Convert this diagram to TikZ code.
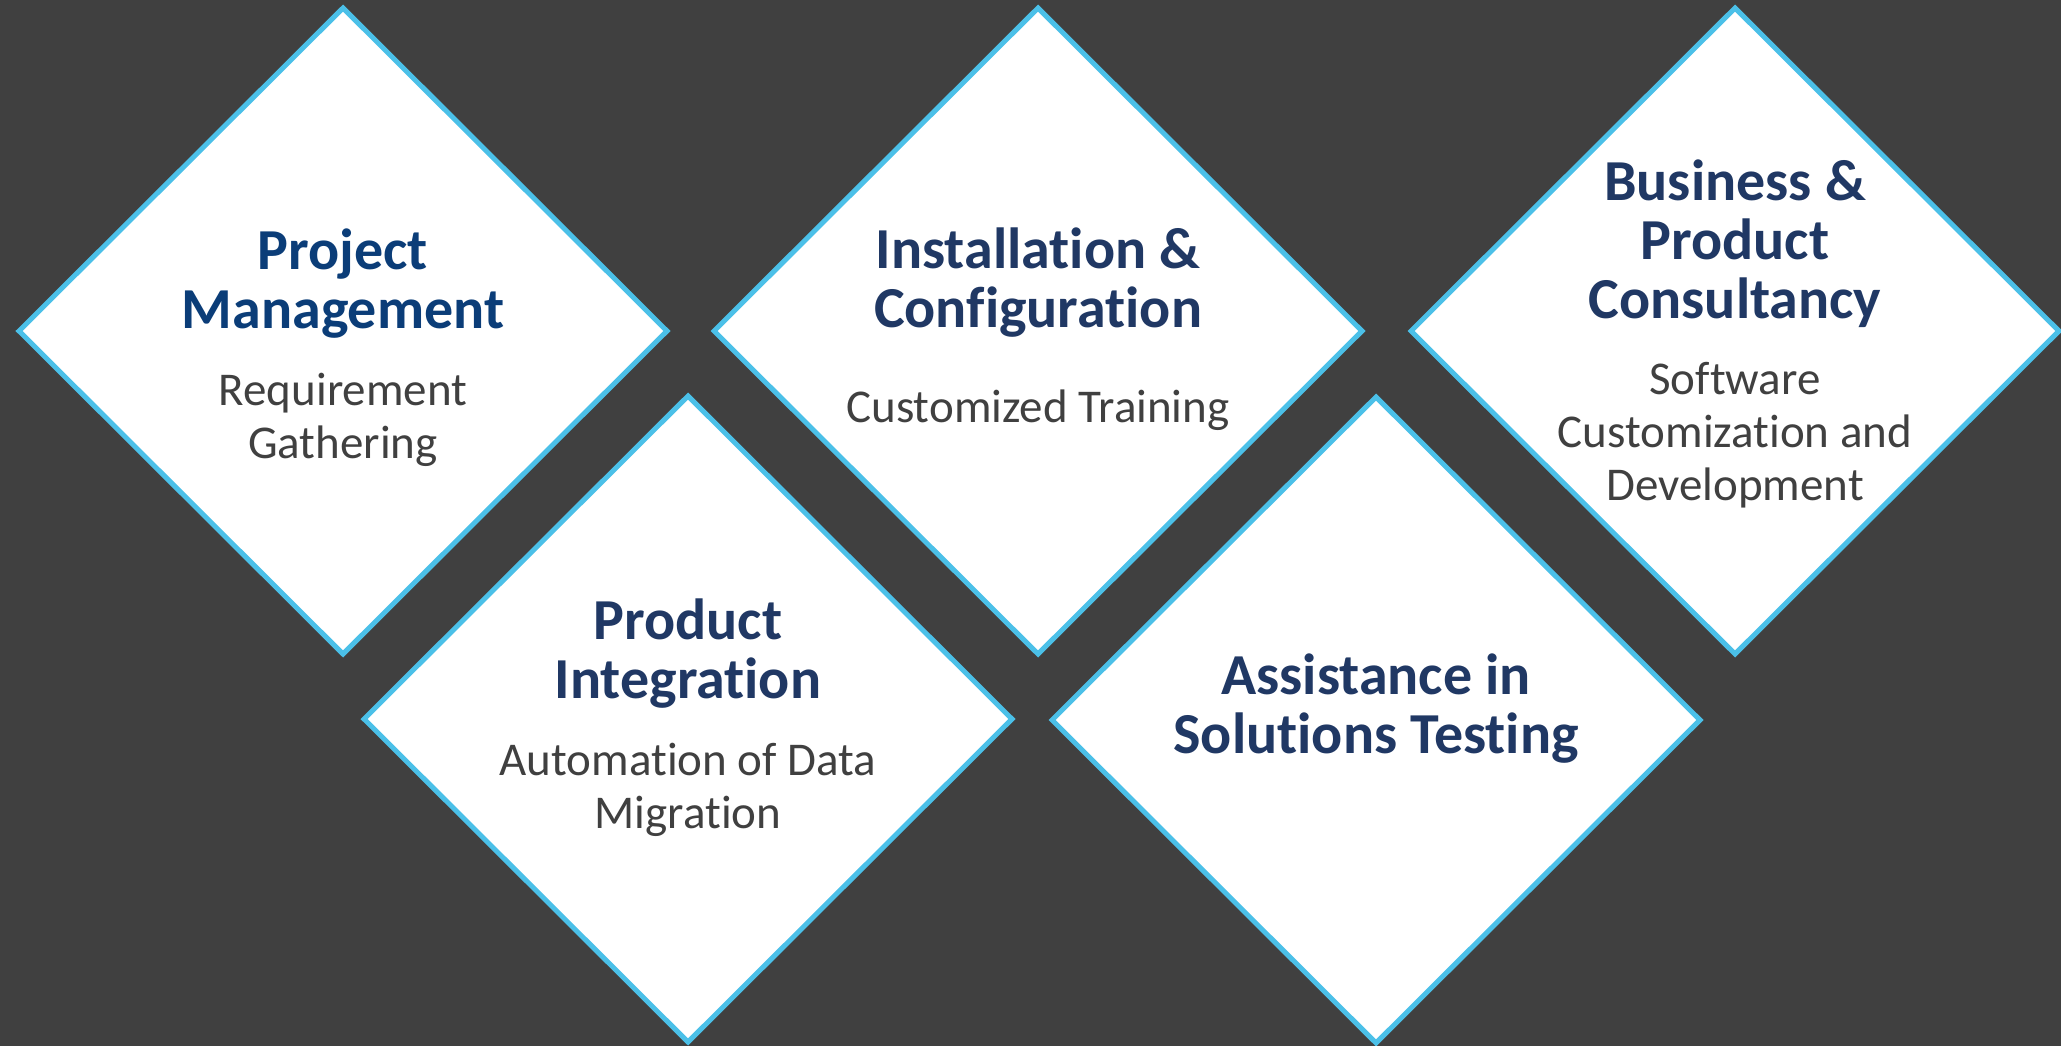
\documentclass[tikz,border=0pt]{standalone}
\usepackage{fontspec}
\setmainfont{Carlito}[Ligatures=NoCommon]
\usepackage{tikz}
\usetikzlibrary{shapes.geometric}
\definecolor{bgdark}{HTML}{404040}
\definecolor{edgeblue}{HTML}{4BC0E8}
\definecolor{headblue}{HTML}{0B3D78}
\definecolor{headnavy}{HTML}{203864}
\definecolor{bodygrey}{HTML}{404040}

\begin{document}
\begin{tikzpicture}[x=1pt, y=-1pt,
        tile/.style={diamond, draw=edgeblue, line width=5pt, fill=white,
                inner sep=0pt, minimum width=650pt, minimum height=648pt},
        head/.style={anchor=base, align=center, text=headnavy,
                font=\fontsize{58}{59}\selectfont\bfseries},
        body/.style={anchor=base, align=center, text=bodygrey,
                font=\fontsize{47}{53}\selectfont}]
        \fill[bgdark] (0,0) rectangle (2061,1046);
        \useasboundingbox (0,0) rectangle (2061,1046);
        % tiles
        \node (d1) [tile] at (343, 331) {};
        \node (d2) [tile] at (1038, 331) {};
        \node (d3) [tile] at (1735, 331) {};
        \node (d4) [tile] at (688, 719) {};
        \node (d5) [tile] at (1376, 720) {};
        % texts (placed at the baseline of their last line)
        \node (h1) [head, text=headblue] at (343, 328.5) {Project\\Management};
        \node (b1) [body] at (343, 458) {Requirement\\Gathering};
        \node (h2) [head] at (1038, 327) {Installation \&\\Configuration};
        \node (b2) [body] at (1038, 422) {Customized Training};
        \node (h3) [head] at (1735, 318) {Business \&\\Product\\Consultancy};
        \node (b3) [body] at (1735, 500) {Software\\Customization and\\Development};
        \node (h4) [head] at (688, 698) {Product\\Integration};
        \node (b4) [body] at (688, 828) {Automation of Data\\Migration};
        \node (h5) [head] at (1376, 753) {Assistance in\\Solutions Testing};
\end{tikzpicture}
\end{document}
